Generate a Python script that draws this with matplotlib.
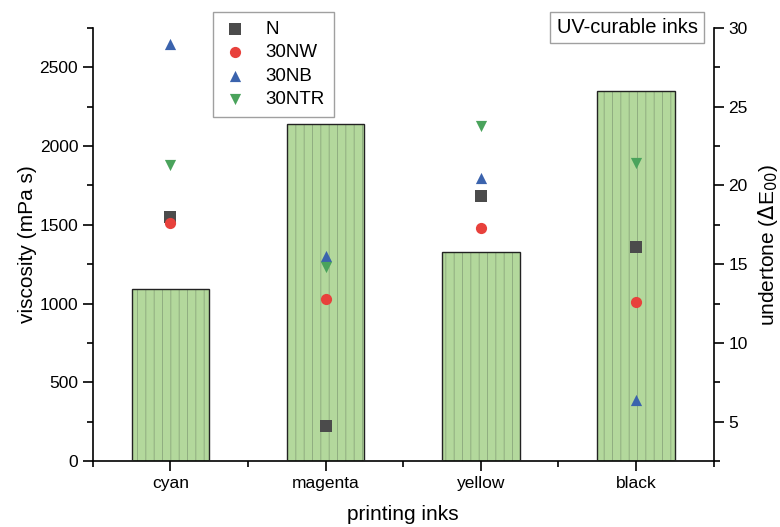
import numpy as np
import matplotlib.pyplot as plt
from matplotlib.ticker import MultipleLocator, FixedLocator
from matplotlib.patches import Patch

plt.rcParams['font.family'] = ['Liberation Sans', 'DejaVu Sans']
plt.rcParams['hatch.linewidth'] = 0.6

# datos
inks = ['cyan', 'magenta', 'yellow', 'black']
viscosity = [1090, 2140, 1325, 2350]  # UV-curable inks (mPa s)

series = ['N', '30NW', '30NB', '30NTR']
undertone_N = [18.0, 4.75, 19.3, 16.1]
undertone_NW = [17.6, 12.8, 17.3, 12.6]
undertone_NB = [29.0, 15.5, 20.5, 6.4]
undertone_NTR = [21.3, 14.8, 23.8, 21.4]

colores = ['#4b4b4b', '#e8413c', '#3b63ad', '#4aa35c']
marcadores = ['s', 'o', '^', 'v']

fig = plt.figure(figsize=(7.8, 5.27), dpi=100)
ax = fig.add_axes([0.119, 0.125, 0.796, 0.822])
x = np.arange(len(inks))

# barras (relleno + rayado) y luego el borde negro
ax.bar(x, viscosity, width=0.5, color='#b3d89c', edgecolor='#8aa67c',
       hatch='||', linewidth=0, zorder=2)
ax.bar(x, viscosity, width=0.5, color='none', edgecolor='#222222',
       linewidth=1.0, zorder=3)

ax.set_xlim(-0.5, 3.5)
ax.set_ylim(0, 2750)
ax.set_xticks(x)
ax.set_xticklabels(inks)
ax.xaxis.set_minor_locator(FixedLocator([-0.5, 0.5, 1.5, 2.5, 3.5]))
ax.yaxis.set_major_locator(MultipleLocator(500))
ax.yaxis.set_minor_locator(MultipleLocator(250))
ax.tick_params(which='major', direction='out', length=7, width=1.2, labelsize=12.5)
ax.tick_params(which='minor', direction='out', length=4, width=1.2)
ax.spines['top'].set_visible(False)
ax.spines['right'].set_visible(False)
for s in ['left', 'bottom']:
    ax.spines[s].set_linewidth(1.2)
ax.set_ylabel('viscosity (mPa s)', fontsize=15, labelpad=2)
ax.set_xlabel('printing inks', fontsize=15, labelpad=10)

# marcadores (eje derecho)
ax2 = ax.twinx()
datos = [undertone_N, undertone_NW, undertone_NB, undertone_NTR]
handles = []
for serie, vals, c, m in zip(series, datos, colores, marcadores):
    h = ax2.scatter(x, vals, marker=m, s=65, color=c, linewidths=0,
                    label=serie, zorder=5)
    handles.append(h)
ax2.set_ylim(2.5, 30)
ax2.yaxis.set_major_locator(MultipleLocator(5))
ax2.yaxis.set_minor_locator(MultipleLocator(2.5))
ax2.tick_params(which='major', direction='out', length=7, width=1.2, labelsize=12.5)
ax2.tick_params(which='minor', direction='out', length=4, width=1.2)
for s in ['top', 'left', 'bottom']:
    ax2.spines[s].set_visible(False)
ax2.spines['right'].set_linewidth(1.2)
ax2.set_ylabel(r'undertone ($\Delta$E$_{00}$)', fontsize=15, labelpad=6)

# leyendas
leg1 = fig.legend(handles=handles, loc='upper left', bbox_to_anchor=(0.273, 0.978),
                  fontsize=13.5, fancybox=False, edgecolor='#888888',
                  handletextpad=0.9, borderpad=0.5, labelspacing=0.33,
                  handlelength=1.4, borderaxespad=0)
leg1.get_frame().set_linewidth(1.0)
leg2 = fig.legend(handles=[Patch(facecolor='none', edgecolor='none')],
                  labels=['UV-curable inks'], loc='upper right',
                  bbox_to_anchor=(0.902, 0.978), fontsize=14.5, fancybox=False,
                  edgecolor='#888888', handlelength=0, borderpad=0.3,
                  handletextpad=0, borderaxespad=0)
leg2.get_frame().set_linewidth(1.0)

plt.savefig('out.png', dpi=100)
